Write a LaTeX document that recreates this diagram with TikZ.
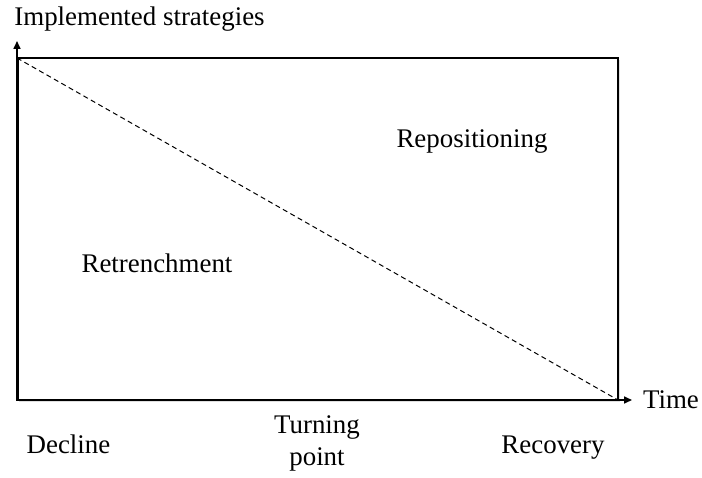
\documentclass[tikz,border=0pt]{standalone}
\usepackage{fontspec}
\setmainfont{Liberation Serif}
\newfontfamily\labelfont{Liberation Serif}
\usetikzlibrary{arrows.meta,shadows}
\begin{document}
\begin{tikzpicture}[x=1bp,y=-1bp,
  lbl/.style={font=\labelfont\fontsize{27}{32}\selectfont, inner sep=0pt, anchor=base},
  axis/.style={line width=1.6bp, -{Triangle[length=8bp,width=7bp]}},
  frame/.style={drop shadow={opacity=0.25, shadow xshift=1.5bp, shadow yshift=-2bp}},
  diag/.style={line width=1bp, dash pattern=on 5bp off 3.5bp}]
\useasboundingbox (0,0) rectangle (702,478);
% corners of the frame and axis ends
\coordinate (O) at (17,400);
\coordinate (TL) at (17,58);
\coordinate (BR) at (618,400);
\coordinate (yend) at (17,41);
\coordinate (xend) at (632,400);
% frame with a faint shadow
\path[frame, fill=white] (TL) rectangle (BR);
\draw[line width=1.6bp] (TL) rectangle (BR);
% diagonal boundary between the two phases
\draw[diag] (TL) -- (BR);
% axes
\draw[axis] (O) -- (yend);
\draw[line width=1.6bp] ([xshift=0.8bp]O) -- ([xshift=0.8bp]TL);
\draw[axis] (O) -- (xend);
% labels
\node[lbl] (ylab) at (139.5,26) {Implemented strategies};
\node[lbl] (xlab) at (671,408) {Time};
\node[lbl] (repo) at (472,148) {Repositioning};
\node[lbl] (retr) at (157,273) {Retrenchment};
\node[lbl] (decl) at (68.5,453) {Decline};
\node[lbl] (turn) at (317,433) {Turning};
\node[lbl] (point) at (317,465) {point};
\node[lbl] (reco) at (553,453) {Recovery};
\end{tikzpicture}
\end{document}
